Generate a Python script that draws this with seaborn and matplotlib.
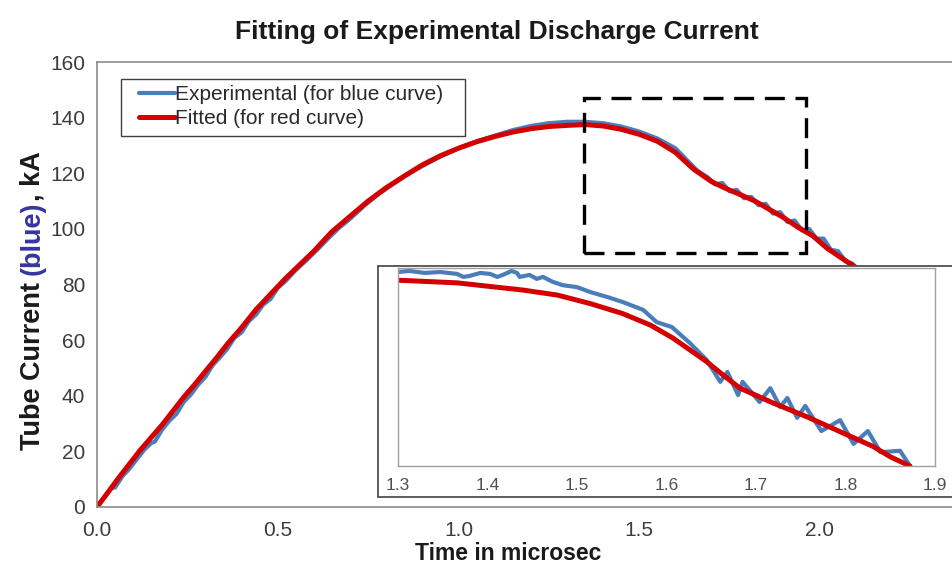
import numpy as np
import pandas as pd
import seaborn as sns
import matplotlib.pyplot as plt
from matplotlib.patches import Rectangle

# main chart (time in microsec, current in kA)
fit_t = [0.00, 0.03, 0.06, 0.09, 0.12, 0.15, 0.18, 0.21, 0.24, 0.27, 0.30, 0.33, 0.36,
         0.40, 0.44, 0.48, 0.52, 0.56, 0.60, 0.65, 0.70, 0.75, 0.80, 0.85, 0.90, 0.95,
         1.00, 1.05, 1.10, 1.15, 1.20, 1.25, 1.30, 1.35, 1.40, 1.45, 1.50, 1.55, 1.60,
         1.65, 1.70, 1.74, 1.78, 1.82, 1.86, 1.90, 1.94, 1.98, 2.02, 2.06, 2.10]
fit_i = [0.0, 5.2, 10.5, 15.5, 20.5, 25.0, 29.5, 34.5, 39.5, 44.0, 48.8, 53.5, 58.5,
         64.5, 71.0, 76.5, 82.0, 87.0, 92.0, 99.0, 104.5, 110.0, 114.8, 119.0, 123.0, 126.3,
         129.0, 131.3, 133.2, 134.8, 136.0, 136.8, 137.2, 137.5, 137.0, 135.8, 134.0, 131.5, 127.5,
         121.5, 117.0, 114.5, 112.3, 110.0, 107.0, 104.0, 100.5, 97.5, 93.0, 89.5, 86.0]

exp_t = [0.00, 0.02, 0.04, 0.05, 0.07, 0.09, 0.10, 0.12, 0.13, 0.15, 0.16, 0.18, 0.20,
         0.22, 0.24, 0.26, 0.28, 0.30, 0.32, 0.34, 0.36, 0.38, 0.40, 0.42, 0.44, 0.46,
         0.48, 0.50, 0.52, 0.55, 0.58, 0.61, 0.64, 0.67, 0.70, 0.74, 0.78, 0.82, 0.86,
         0.90, 0.95, 1.00, 1.05, 1.10, 1.15, 1.20, 1.25, 1.30, 1.35, 1.40, 1.45, 1.50,
         1.55, 1.60, 1.63, 1.66, 1.69, 1.71, 1.73, 1.75, 1.77, 1.79, 1.81, 1.83, 1.85,
         1.87, 1.89, 1.91, 1.93, 1.95, 1.97, 1.99, 2.01, 2.03, 2.05, 2.07, 2.09, 2.11]
exp_i = [0.0, 3.5, 6.8, 7.0, 11.0, 13.8, 15.5, 18.8, 20.5, 23.0, 23.5, 27.8, 31.0,
         33.5, 37.8, 40.5, 44.0, 46.8, 51.0, 53.8, 56.8, 60.8, 62.8, 66.8, 69.2, 72.8,
         74.8, 78.8, 81.0, 85.2, 88.8, 92.6, 96.6, 100.4, 103.6, 108.4, 112.6, 116.2, 119.6,
         122.6, 126.0, 129.0, 131.5, 133.5, 135.5, 137.0, 138.0, 138.5, 138.5, 138.0, 136.8, 135.0,
         132.5, 129.0, 125.0, 121.0, 118.5, 116.0, 116.5, 113.5, 114.0, 111.0, 111.5, 108.5, 109.0,
         105.5, 106.0, 102.5, 103.0, 99.5, 100.0, 96.5, 96.5, 92.5, 92.0, 88.5, 87.5, 84.5]

# inset (zoomed part of the falling edge)
ins_fit_t = [1.300, 1.366, 1.440, 1.478, 1.515, 1.551, 1.582, 1.607, 1.645, 1.663,
             1.682, 1.719, 1.757, 1.794, 1.831, 1.850, 1.872]
ins_fit_i = [136.3, 135.5, 133.3, 131.8, 129.2, 126.2, 122.7, 118.8, 111.6, 107.6,
             103.6, 99.1, 94.9, 90.4, 85.9, 82.8, 80.0]

ins_exp_t = [1.300, 1.313, 1.330, 1.347, 1.366, 1.373, 1.380, 1.392, 1.403, 1.411, 1.417,
             1.427, 1.433, 1.436, 1.447, 1.455, 1.462, 1.473, 1.484, 1.500, 1.515, 1.534,
             1.551, 1.574, 1.589, 1.606, 1.626, 1.645, 1.660, 1.668, 1.680, 1.685, 1.704,
             1.716, 1.727, 1.735, 1.746, 1.755, 1.773, 1.794, 1.809, 1.825, 1.839, 1.861, 1.872]
ins_exp_i = [138.8, 139.1, 138.5, 138.8, 138.2, 137.3, 137.6, 138.5, 138.2, 137.3, 137.9,
             139.1, 138.5, 137.3, 137.9, 136.7, 137.3, 135.8, 134.8, 134.2, 132.7, 131.2,
             129.7, 127.3, 123.6, 122.1, 117.3, 112.1, 105.5, 108.5, 101.5, 105.5, 99.4,
             103.6, 97.9, 100.6, 94.6, 98.2, 90.6, 93.9, 86.7, 90.6, 84.2, 84.6, 80.0]

xticks = [0.0, 0.5, 1.0, 1.5, 2.0]
yticks = [0, 20, 40, 60, 80, 100, 120, 140, 160]
ins_xticks = [1.3, 1.4, 1.5, 1.6, 1.7, 1.8, 1.9]
zoom_box = (1.347, 1.961, 91.3, 147.1)  # t0, t1, i0, i1 of dashed box

BLUE = "#4a7ebb"
RED = "#d40000"
AXC = "#8c8c8c"
TXT = "#3c3c3c"

sns.set_style("white")
plt.rcParams['font.family'] = ['Liberation Sans', 'DejaVu Sans']

W, H = 953, 569
fig = plt.figure(figsize=(W / 100, H / 100), dpi=100)

def fx(px):
    return px / W

def fy(py):
    return 1 - py / H

ax = fig.add_axes([fx(97), fy(507), fx(953 - 97), (507 - 62) / H])
main = pd.DataFrame({"t": exp_t, "i": exp_i})
fitd = pd.DataFrame({"t": fit_t, "i": fit_i})
sns.lineplot(data=main, x="t", y="i", ax=ax, color=BLUE, linewidth=3.0, sort=False,
             estimator=None, label="Experimental (for blue curve)")
sns.lineplot(data=fitd, x="t", y="i", ax=ax, color=RED, linewidth=3.6, sort=False,
             estimator=None, label="Fitted (for red curve)")
ax.set_xlim(0, 2.368)
ax.set_ylim(0, 160)
ax.set_xticks(xticks)
ax.set_xticklabels([f"{v:.1f}" for v in xticks])
ax.set_yticks(yticks)
for s in ["left", "bottom", "top"]:
    ax.spines[s].set_color(AXC)
    ax.spines[s].set_linewidth(1.2)
ax.spines["right"].set_visible(False)
ax.tick_params(axis="both", direction="out", length=5, width=1, color=AXC,
               labelsize=15, labelcolor=TXT)
ax.tick_params(axis="x", pad=5)
ax.set_xlabel("")
ax.set_ylabel("")

t0, t1, i0, i1 = zoom_box
ax.add_patch(Rectangle((t0, i0), t1 - t0, i1 - i0, fill=False, edgecolor="black",
                       linewidth=2.4, linestyle=(0, (6, 3.2)), zorder=4))

# legend: own frame box, entries placed inside it
ax.add_patch(Rectangle((fx(121), fy(136)), fx(465 - 121), (136 - 79) / H,
                       transform=fig.transFigure, facecolor="white", clip_on=False,
                       edgecolor="#404040", linewidth=1.0, zorder=4.5))
leg = ax.legend(loc="upper left", bbox_to_anchor=(fx(134), fy(80)),
                bbox_transform=fig.transFigure, borderaxespad=0, fontsize=15,
                handlelength=1.7, handletextpad=0.0, borderpad=0.25,
                labelspacing=0.25, frameon=False)
leg.set_zorder(5)
for txt in leg.get_texts():
    txt.set_color("#2a2a2a")

# inset frame and axes
fig.patches.append(Rectangle((fx(378), fy(497)), 1.0, (497 - 266) / H,
                             transform=fig.transFigure, facecolor="white",
                             edgecolor="#505050", linewidth=1.3, zorder=2))
ins = fig.add_axes([fx(398), fy(466), fx(935 - 398), (466 - 268) / H], zorder=3)
ins.set_facecolor("white")
sns.lineplot(x=ins_exp_t, y=ins_exp_i, ax=ins, color=BLUE, linewidth=3.0, sort=False,
             estimator=None, legend=False)
sns.lineplot(x=ins_fit_t, y=ins_fit_i, ax=ins, color=RED, linewidth=3.6, sort=False,
             estimator=None, legend=False)
ins.set_xlim(1.3, 1.9)
ins.set_ylim(80, 140)
ins.set_xticks(ins_xticks)
ins.set_xticklabels([f"{v:.1f}" for v in ins_xticks])
ins.set_yticks([])
for s in ins.spines.values():
    s.set_color("#a0a0a0")
    s.set_linewidth(1.0)
ins.tick_params(axis="x", direction="out", length=4, width=1, color=AXC,
                labelsize=12.5, labelcolor="#505050", pad=5)

fig.text(fx(497), fy(32), "Fitting of Experimental Discharge Current", ha="center",
         va="center", fontsize=19, fontweight="bold", color="#1a1a1a")
fig.text(fx(508), fy(554), "Time in microsec", ha="center", va="center",
         fontsize=16.5, fontweight="bold", color="#1a1a1a")

# y label in three colours, stacked bottom-up
parts = [("Tube Current ", "#1a1a1a"), ("(blue)", "#3535a0"), (", kA", "#1a1a1a")]
ylab_size = 19.5
fig.canvas.draw()
r = fig.canvas.get_renderer()
tmp = [fig.text(0, 0, s, fontsize=ylab_size, fontweight="bold") for s, _ in parts]
ws = [t.get_window_extent(r).width for t in tmp]
for t in tmp:
    t.remove()
y = 301 + sum(ws) / 2  # pixel row where the label starts (bottom end)
for (s, c), w in zip(parts, ws):
    fig.text(fx(40), fy(y), s, rotation=90, fontsize=ylab_size, fontweight="bold", color=c,
             ha="left", va="baseline", rotation_mode="anchor")
    y -= w

fig.savefig("out.png", dpi=100)
